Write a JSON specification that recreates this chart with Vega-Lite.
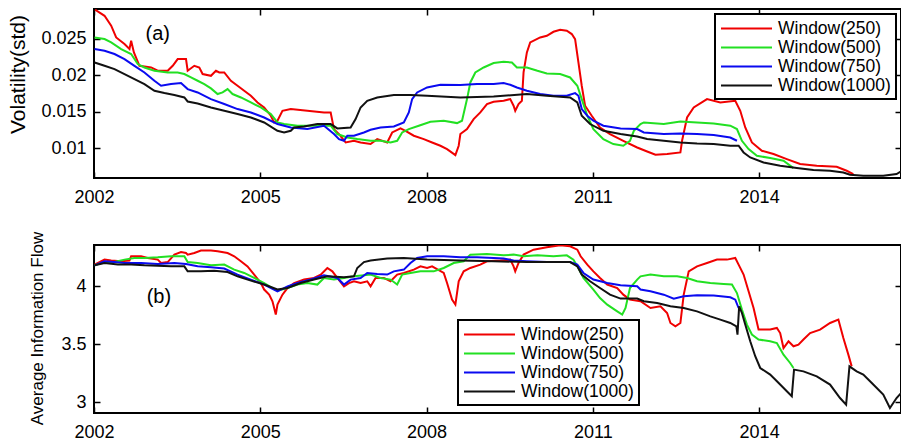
{
"$schema": "https://vega.github.io/schema/vega-lite/v6.json",
"padding": {"left": 6, "top": 7, "right": 0, "bottom": 0},
"bounds": "flush",
"spacing": 67,
"config": {
  "font": "Liberation Sans",
  "view": {"stroke": "black", "strokeWidth": 2},
  "axis": {"domain": false, "grid": false, "labelFlush": false, "tickColor": "black", "tickSize": -6, "tickWidth": 1.5, "labelFontSize": 18, "labelColor": "black", "titleColor": "black", "titleFontWeight": "normal"},
  "legend": {"labelFontSize": 17.5, "labelColor": "black", "symbolType": "M-3,0H3", "symbolSize": 289, "symbolStrokeWidth": 2, "symbolOffset": 17, "labelOffset": 22, "strokeColor": "black", "fillColor": "white", "padding": 5, "rowPadding": 1, "title": null}
},
"datasets": {
"top": [
{"series":"Window(250)","year":2002.02,"value":0.02895},{"series":"Window(250)","year":2002.19,"value":0.02812},{"series":"Window(250)","year":2002.31,"value":0.02676},{"series":"Window(250)","year":2002.40,"value":0.02515},{"series":"Window(250)","year":2002.55,"value":0.02425},{"series":"Window(250)","year":2002.64,"value":0.02356},{"series":"Window(250)","year":2002.67,"value":0.0247},{"series":"Window(250)","year":2002.72,"value":0.0231},{"series":"Window(250)","year":2002.82,"value":0.02127},{"series":"Window(250)","year":2003.03,"value":0.02104},{"series":"Window(250)","year":2003.15,"value":0.02059},{"series":"Window(250)","year":2003.33,"value":0.02059},{"series":"Window(250)","year":2003.42,"value":0.02127},{"series":"Window(250)","year":2003.51,"value":0.02219},{"series":"Window(250)","year":2003.66,"value":0.02219},{"series":"Window(250)","year":2003.69,"value":0.02059},{"series":"Window(250)","year":2003.81,"value":0.02127},{"series":"Window(250)","year":2003.90,"value":0.02104},{"series":"Window(250)","year":2003.96,"value":0.02014},{"series":"Window(250)","year":2004.11,"value":0.0199},{"series":"Window(250)","year":2004.20,"value":0.02059},{"series":"Window(250)","year":2004.26,"value":0.02036},{"series":"Window(250)","year":2004.35,"value":0.02036},{"series":"Window(250)","year":2004.47,"value":0.01922},{"series":"Window(250)","year":2004.59,"value":0.01854},{"series":"Window(250)","year":2004.71,"value":0.01785},{"series":"Window(250)","year":2004.83,"value":0.01717},{"series":"Window(250)","year":2004.95,"value":0.01625},{"series":"Window(250)","year":2005.07,"value":0.01556},{"series":"Window(250)","year":2005.19,"value":0.01443},{"series":"Window(250)","year":2005.25,"value":0.01351},{"series":"Window(250)","year":2005.31,"value":0.01374},{"series":"Window(250)","year":2005.40,"value":0.01511},{"series":"Window(250)","year":2005.55,"value":0.01534},{"series":"Window(250)","year":2005.85,"value":0.01511},{"series":"Window(250)","year":2006.15,"value":0.01488},{"series":"Window(250)","year":2006.27,"value":0.01488},{"series":"Window(250)","year":2006.33,"value":0.0126},{"series":"Window(250)","year":2006.42,"value":0.01192},{"series":"Window(250)","year":2006.54,"value":0.01077},{"series":"Window(250)","year":2006.69,"value":0.0110},{"series":"Window(250)","year":2006.81,"value":0.01077},{"series":"Window(250)","year":2006.99,"value":0.01055},{"series":"Window(250)","year":2007.11,"value":0.01123},{"series":"Window(250)","year":2007.29,"value":0.01077},{"series":"Window(250)","year":2007.38,"value":0.01214},{"series":"Window(250)","year":2007.53,"value":0.01269},{"series":"Window(250)","year":2007.62,"value":0.01237},{"series":"Window(250)","year":2007.77,"value":0.01169},{"series":"Window(250)","year":2007.95,"value":0.01123},{"series":"Window(250)","year":2008.10,"value":0.01077},{"series":"Window(250)","year":2008.25,"value":0.01032},{"series":"Window(250)","year":2008.37,"value":0.00986},{"series":"Window(250)","year":2008.52,"value":0.00904},{"series":"Window(250)","year":2008.58,"value":0.01032},{"series":"Window(250)","year":2008.61,"value":0.01192},{"series":"Window(250)","year":2008.73,"value":0.0126},{"series":"Window(250)","year":2008.85,"value":0.01397},{"series":"Window(250)","year":2008.97,"value":0.01488},{"series":"Window(250)","year":2009.09,"value":0.01603},{"series":"Window(250)","year":2009.21,"value":0.01634},{"series":"Window(250)","year":2009.39,"value":0.01648},{"series":"Window(250)","year":2009.51,"value":0.01671},{"series":"Window(250)","year":2009.57,"value":0.0158},{"series":"Window(250)","year":2009.60,"value":0.01511},{"series":"Window(250)","year":2009.66,"value":0.01603},{"series":"Window(250)","year":2009.72,"value":0.01648},{"series":"Window(250)","year":2009.75,"value":0.02036},{"series":"Window(250)","year":2009.81,"value":0.0231},{"series":"Window(250)","year":2009.87,"value":0.02447},{"series":"Window(250)","year":2010.05,"value":0.02515},{"series":"Window(250)","year":2010.17,"value":0.02538},{"series":"Window(250)","year":2010.29,"value":0.02593},{"series":"Window(250)","year":2010.41,"value":0.02621},{"series":"Window(250)","year":2010.53,"value":0.02607},{"series":"Window(250)","year":2010.62,"value":0.02562},{"series":"Window(250)","year":2010.68,"value":0.02493},{"series":"Window(250)","year":2010.74,"value":0.02173},{"series":"Window(250)","year":2010.80,"value":0.01854},{"series":"Window(250)","year":2010.86,"value":0.0158},{"series":"Window(250)","year":2010.98,"value":0.01443},{"series":"Window(250)","year":2011.13,"value":0.01282},{"series":"Window(250)","year":2011.31,"value":0.01192},{"series":"Window(250)","year":2011.55,"value":0.0110},{"series":"Window(250)","year":2011.80,"value":0.01008},{"series":"Window(250)","year":2011.98,"value":0.00953},{"series":"Window(250)","year":2012.13,"value":0.00908},{"series":"Window(250)","year":2012.34,"value":0.00918},{"series":"Window(250)","year":2012.58,"value":0.0094},{"series":"Window(250)","year":2012.61,"value":0.0110},{"series":"Window(250)","year":2012.70,"value":0.01419},{"series":"Window(250)","year":2012.82,"value":0.01556},{"series":"Window(250)","year":2013.06,"value":0.01671},{"series":"Window(250)","year":2013.30,"value":0.01625},{"series":"Window(250)","year":2013.57,"value":0.01648},{"series":"Window(250)","year":2013.66,"value":0.01511},{"series":"Window(250)","year":2013.75,"value":0.01282},{"series":"Window(250)","year":2013.87,"value":0.01077},{"series":"Window(250)","year":2014.05,"value":0.00963},{"series":"Window(250)","year":2014.26,"value":0.00918},{"series":"Window(250)","year":2014.50,"value":0.00849},{"series":"Window(250)","year":2014.74,"value":0.00781},{"series":"Window(250)","year":2015.04,"value":0.00758},{"series":"Window(250)","year":2015.40,"value":0.00744},{"series":"Window(250)","year":2015.58,"value":0.00689},{"series":"Window(250)","year":2015.70,"value":0.00644},
{"series":"Window(500)","year":2002.01,"value":0.02515},{"series":"Window(500)","year":2002.19,"value":0.02493},{"series":"Window(500)","year":2002.31,"value":0.02447},{"series":"Window(500)","year":2002.49,"value":0.02356},{"series":"Window(500)","year":2002.67,"value":0.02288},{"series":"Window(500)","year":2002.79,"value":0.02151},{"series":"Window(500)","year":2002.91,"value":0.02104},{"series":"Window(500)","year":2003.09,"value":0.02059},{"series":"Window(500)","year":2003.33,"value":0.02036},{"series":"Window(500)","year":2003.51,"value":0.02036},{"series":"Window(500)","year":2003.63,"value":0.02014},{"series":"Window(500)","year":2003.75,"value":0.01967},{"series":"Window(500)","year":2003.87,"value":0.01922},{"series":"Window(500)","year":2003.99,"value":0.01877},{"series":"Window(500)","year":2004.11,"value":0.01817},{"series":"Window(500)","year":2004.23,"value":0.0174},{"series":"Window(500)","year":2004.32,"value":0.01762},{"series":"Window(500)","year":2004.41,"value":0.01808},{"series":"Window(500)","year":2004.50,"value":0.0174},{"series":"Window(500)","year":2004.65,"value":0.01693},{"series":"Window(500)","year":2004.83,"value":0.01625},{"series":"Window(500)","year":2005.01,"value":0.01556},{"series":"Window(500)","year":2005.19,"value":0.01466},{"series":"Window(500)","year":2005.31,"value":0.01351},{"series":"Window(500)","year":2005.43,"value":0.01329},{"series":"Window(500)","year":2005.67,"value":0.01306},{"series":"Window(500)","year":2005.91,"value":0.01306},{"series":"Window(500)","year":2006.27,"value":0.01306},{"series":"Window(500)","year":2006.39,"value":0.01192},{"series":"Window(500)","year":2006.57,"value":0.01145},{"series":"Window(500)","year":2006.75,"value":0.01123},{"series":"Window(500)","year":2006.99,"value":0.0110},{"series":"Window(500)","year":2007.17,"value":0.0110},{"series":"Window(500)","year":2007.35,"value":0.01077},{"series":"Window(500)","year":2007.47,"value":0.0110},{"series":"Window(500)","year":2007.56,"value":0.01214},{"series":"Window(500)","year":2007.68,"value":0.0126},{"series":"Window(500)","year":2007.86,"value":0.01306},{"series":"Window(500)","year":2008.07,"value":0.0136},{"series":"Window(500)","year":2008.31,"value":0.01374},{"series":"Window(500)","year":2008.55,"value":0.01342},{"series":"Window(500)","year":2008.64,"value":0.01374},{"series":"Window(500)","year":2008.73,"value":0.01671},{"series":"Window(500)","year":2008.79,"value":0.01899},{"series":"Window(500)","year":2008.88,"value":0.02036},{"series":"Window(500)","year":2009.03,"value":0.02104},{"series":"Window(500)","year":2009.21,"value":0.02164},{"series":"Window(500)","year":2009.39,"value":0.02182},{"series":"Window(500)","year":2009.54,"value":0.02173},{"series":"Window(500)","year":2009.63,"value":0.02104},{"series":"Window(500)","year":2009.81,"value":0.02104},{"series":"Window(500)","year":2010.00,"value":0.02059},{"series":"Window(500)","year":2010.17,"value":0.02022},{"series":"Window(500)","year":2010.41,"value":0.02014},{"series":"Window(500)","year":2010.59,"value":0.01967},{"series":"Window(500)","year":2010.72,"value":0.01854},{"series":"Window(500)","year":2010.80,"value":0.01671},{"series":"Window(500)","year":2010.90,"value":0.01443},{"series":"Window(500)","year":2011.01,"value":0.0126},{"series":"Window(500)","year":2011.19,"value":0.01123},{"series":"Window(500)","year":2011.37,"value":0.01055},{"series":"Window(500)","year":2011.55,"value":0.01032},{"series":"Window(500)","year":2011.67,"value":0.0110},{"series":"Window(500)","year":2011.74,"value":0.01237},{"series":"Window(500)","year":2011.86,"value":0.01329},{"series":"Window(500)","year":2011.92,"value":0.01351},{"series":"Window(500)","year":2012.28,"value":0.01329},{"series":"Window(500)","year":2012.58,"value":0.01364},{"series":"Window(500)","year":2012.88,"value":0.01351},{"series":"Window(500)","year":2013.18,"value":0.01337},{"series":"Window(500)","year":2013.48,"value":0.01306},{"series":"Window(500)","year":2013.60,"value":0.0126},{"series":"Window(500)","year":2013.69,"value":0.0110},{"series":"Window(500)","year":2013.81,"value":0.00986},{"series":"Window(500)","year":2013.96,"value":0.00895},{"series":"Window(500)","year":2014.20,"value":0.00863},{"series":"Window(500)","year":2014.44,"value":0.00826},{"series":"Window(500)","year":2014.62,"value":0.00726},
{"series":"Window(750)","year":2002.01,"value":0.02356},{"series":"Window(750)","year":2002.19,"value":0.02333},{"series":"Window(750)","year":2002.37,"value":0.02288},{"series":"Window(750)","year":2002.55,"value":0.02219},{"series":"Window(750)","year":2002.73,"value":0.02127},{"series":"Window(750)","year":2002.91,"value":0.02036},{"series":"Window(750)","year":2003.09,"value":0.01922},{"series":"Window(750)","year":2003.21,"value":0.01854},{"series":"Window(750)","year":2003.39,"value":0.01877},{"series":"Window(750)","year":2003.57,"value":0.0189},{"series":"Window(750)","year":2003.69,"value":0.01808},{"series":"Window(750)","year":2003.87,"value":0.01762},{"series":"Window(750)","year":2004.11,"value":0.01671},{"series":"Window(750)","year":2004.35,"value":0.01603},{"series":"Window(750)","year":2004.59,"value":0.01534},{"series":"Window(750)","year":2004.83,"value":0.01488},{"series":"Window(750)","year":2005.07,"value":0.01419},{"series":"Window(750)","year":2005.31,"value":0.01329},{"series":"Window(750)","year":2005.55,"value":0.01282},{"series":"Window(750)","year":2005.85,"value":0.0126},{"series":"Window(750)","year":2006.15,"value":0.01306},{"series":"Window(750)","year":2006.33,"value":0.01192},{"series":"Window(750)","year":2006.42,"value":0.01123},{"series":"Window(750)","year":2006.51,"value":0.0110},{"series":"Window(750)","year":2006.57,"value":0.01169},{"series":"Window(750)","year":2006.69,"value":0.01169},{"series":"Window(750)","year":2006.87,"value":0.01214},{"series":"Window(750)","year":2006.99,"value":0.01251},{"series":"Window(750)","year":2007.17,"value":0.01282},{"series":"Window(750)","year":2007.41,"value":0.01296},{"series":"Window(750)","year":2007.59,"value":0.01351},{"series":"Window(750)","year":2007.68,"value":0.01488},{"series":"Window(750)","year":2007.74,"value":0.01671},{"series":"Window(750)","year":2007.83,"value":0.01762},{"series":"Window(750)","year":2008.01,"value":0.0183},{"series":"Window(750)","year":2008.25,"value":0.01867},{"series":"Window(750)","year":2008.61,"value":0.01863},{"series":"Window(750)","year":2008.91,"value":0.01877},{"series":"Window(750)","year":2009.21,"value":0.01877},{"series":"Window(750)","year":2009.39,"value":0.0189},{"series":"Window(750)","year":2009.51,"value":0.01867},{"series":"Window(750)","year":2009.63,"value":0.0183},{"series":"Window(750)","year":2009.81,"value":0.01785},{"series":"Window(750)","year":2010.05,"value":0.0174},{"series":"Window(750)","year":2010.29,"value":0.01717},{"series":"Window(750)","year":2010.53,"value":0.01717},{"series":"Window(750)","year":2010.68,"value":0.01753},{"series":"Window(750)","year":2010.74,"value":0.01717},{"series":"Window(750)","year":2010.80,"value":0.01534},{"series":"Window(750)","year":2010.90,"value":0.01443},{"series":"Window(750)","year":2011.01,"value":0.01374},{"series":"Window(750)","year":2011.19,"value":0.01306},{"series":"Window(750)","year":2011.50,"value":0.01269},{"series":"Window(750)","year":2011.80,"value":0.0126},{"series":"Window(750)","year":2011.92,"value":0.01214},{"series":"Window(750)","year":2012.28,"value":0.01192},{"series":"Window(750)","year":2012.58,"value":0.012},{"series":"Window(750)","year":2012.88,"value":0.01192},{"series":"Window(750)","year":2013.18,"value":0.01178},{"series":"Window(750)","year":2013.48,"value":0.01145},{"series":"Window(750)","year":2013.60,"value":0.0110},
{"series":"Window(1000)","year":2002.01,"value":0.02173},{"series":"Window(1000)","year":2002.19,"value":0.02127},{"series":"Window(1000)","year":2002.37,"value":0.02082},{"series":"Window(1000)","year":2002.55,"value":0.02014},{"series":"Window(1000)","year":2002.73,"value":0.01945},{"series":"Window(1000)","year":2002.91,"value":0.01877},{"series":"Window(1000)","year":2003.09,"value":0.01785},{"series":"Window(1000)","year":2003.27,"value":0.01753},{"series":"Window(1000)","year":2003.45,"value":0.01726},{"series":"Window(1000)","year":2003.63,"value":0.01693},{"series":"Window(1000)","year":2003.69,"value":0.01638},{"series":"Window(1000)","year":2003.87,"value":0.01611},{"series":"Window(1000)","year":2004.11,"value":0.01556},{"series":"Window(1000)","year":2004.35,"value":0.01511},{"series":"Window(1000)","year":2004.59,"value":0.01466},{"series":"Window(1000)","year":2004.83,"value":0.01419},{"series":"Window(1000)","year":2005.07,"value":0.01351},{"series":"Window(1000)","year":2005.31,"value":0.01237},{"series":"Window(1000)","year":2005.43,"value":0.01214},{"series":"Window(1000)","year":2005.55,"value":0.01237},{"series":"Window(1000)","year":2005.61,"value":0.01282},{"series":"Window(1000)","year":2005.79,"value":0.01296},{"series":"Window(1000)","year":2006.03,"value":0.01329},{"series":"Window(1000)","year":2006.27,"value":0.01329},{"series":"Window(1000)","year":2006.39,"value":0.01269},{"series":"Window(1000)","year":2006.63,"value":0.01282},{"series":"Window(1000)","year":2006.72,"value":0.01397},{"series":"Window(1000)","year":2006.81,"value":0.01556},{"series":"Window(1000)","year":2006.93,"value":0.01648},{"series":"Window(1000)","year":2007.11,"value":0.01693},{"series":"Window(1000)","year":2007.41,"value":0.01726},{"series":"Window(1000)","year":2007.71,"value":0.01726},{"series":"Window(1000)","year":2008.01,"value":0.01717},{"series":"Window(1000)","year":2008.61,"value":0.01693},{"series":"Window(1000)","year":2009.21,"value":0.01707},{"series":"Window(1000)","year":2009.81,"value":0.0174},{"series":"Window(1000)","year":2010.17,"value":0.01717},{"series":"Window(1000)","year":2010.59,"value":0.01693},{"series":"Window(1000)","year":2010.72,"value":0.01625},{"series":"Window(1000)","year":2010.80,"value":0.01443},{"series":"Window(1000)","year":2010.95,"value":0.01329},{"series":"Window(1000)","year":2011.19,"value":0.01237},{"series":"Window(1000)","year":2011.50,"value":0.01192},{"series":"Window(1000)","year":2011.80,"value":0.01159},{"series":"Window(1000)","year":2011.98,"value":0.01123},{"series":"Window(1000)","year":2012.28,"value":0.0110},{"series":"Window(1000)","year":2012.58,"value":0.01077},{"series":"Window(1000)","year":2012.88,"value":0.01063},{"series":"Window(1000)","year":2013.18,"value":0.01055},{"series":"Window(1000)","year":2013.48,"value":0.01032},{"series":"Window(1000)","year":2013.63,"value":0.01032},{"series":"Window(1000)","year":2013.72,"value":0.0094},{"series":"Window(1000)","year":2013.84,"value":0.00871},{"series":"Window(1000)","year":2014.08,"value":0.00803},{"series":"Window(1000)","year":2014.38,"value":0.00758},{"series":"Window(1000)","year":2014.68,"value":0.00726},{"series":"Window(1000)","year":2014.98,"value":0.00699},{"series":"Window(1000)","year":2015.28,"value":0.00689},{"series":"Window(1000)","year":2015.52,"value":0.00666},{"series":"Window(1000)","year":2015.64,"value":0.00634},{"series":"Window(1000)","year":2015.88,"value":0.00621},{"series":"Window(1000)","year":2016.24,"value":0.00621},{"series":"Window(1000)","year":2016.48,"value":0.00644},{"series":"Window(1000)","year":2016.56,"value":0.0068}
],
"bottom": [
{"series":"Window(250)","year":2002.01,"value":4.187},{"series":"Window(250)","year":2002.19,"value":4.230},{"series":"Window(250)","year":2002.31,"value":4.222},{"series":"Window(250)","year":2002.49,"value":4.216},{"series":"Window(250)","year":2002.64,"value":4.222},{"series":"Window(250)","year":2002.67,"value":4.259},{"series":"Window(250)","year":2002.85,"value":4.259},{"series":"Window(250)","year":2002.97,"value":4.244},{"series":"Window(250)","year":2003.15,"value":4.230},{"series":"Window(250)","year":2003.21,"value":4.201},{"series":"Window(250)","year":2003.33,"value":4.209},{"series":"Window(250)","year":2003.45,"value":4.273},{"series":"Window(250)","year":2003.57,"value":4.296},{"series":"Window(250)","year":2003.66,"value":4.287},{"series":"Window(250)","year":2003.69,"value":4.273},{"series":"Window(250)","year":2003.81,"value":4.287},{"series":"Window(250)","year":2003.93,"value":4.308},{"series":"Window(250)","year":2004.11,"value":4.308},{"series":"Window(250)","year":2004.23,"value":4.302},{"series":"Window(250)","year":2004.41,"value":4.287},{"series":"Window(250)","year":2004.53,"value":4.259},{"series":"Window(250)","year":2004.65,"value":4.216},{"series":"Window(250)","year":2004.77,"value":4.172},{"series":"Window(250)","year":2004.89,"value":4.101},{"series":"Window(250)","year":2005.01,"value":4.028},{"series":"Window(250)","year":2005.07,"value":3.972},{"series":"Window(250)","year":2005.16,"value":3.928},{"series":"Window(250)","year":2005.22,"value":3.871},{"series":"Window(250)","year":2005.28,"value":3.756},{"series":"Window(250)","year":2005.31,"value":3.842},{"series":"Window(250)","year":2005.40,"value":3.928},{"series":"Window(250)","year":2005.49,"value":3.985},{"series":"Window(250)","year":2005.61,"value":4.028},{"series":"Window(250)","year":2005.79,"value":4.058},{"series":"Window(250)","year":2005.97,"value":4.072},{"series":"Window(250)","year":2006.09,"value":4.101},{"series":"Window(250)","year":2006.21,"value":4.158},{"series":"Window(250)","year":2006.30,"value":4.129},{"series":"Window(250)","year":2006.39,"value":4.072},{"series":"Window(250)","year":2006.51,"value":4.0},{"series":"Window(250)","year":2006.60,"value":4.028},{"series":"Window(250)","year":2006.69,"value":4.043},{"series":"Window(250)","year":2006.81,"value":4.028},{"series":"Window(250)","year":2006.93,"value":4.043},{"series":"Window(250)","year":2006.99,"value":4.0},{"series":"Window(250)","year":2007.08,"value":4.072},{"series":"Window(250)","year":2007.23,"value":4.072},{"series":"Window(250)","year":2007.35,"value":4.043},{"series":"Window(250)","year":2007.47,"value":4.101},{"series":"Window(250)","year":2007.59,"value":4.115},{"series":"Window(250)","year":2007.77,"value":4.144},{"series":"Window(250)","year":2007.89,"value":4.172},{"series":"Window(250)","year":2008.01,"value":4.158},{"series":"Window(250)","year":2008.10,"value":4.172},{"series":"Window(250)","year":2008.31,"value":4.115},{"series":"Window(250)","year":2008.37,"value":4.028},{"series":"Window(250)","year":2008.46,"value":3.885},{"series":"Window(250)","year":2008.52,"value":3.842},{"series":"Window(250)","year":2008.58,"value":4.043},{"series":"Window(250)","year":2008.67,"value":4.129},{"series":"Window(250)","year":2008.79,"value":4.158},{"series":"Window(250)","year":2008.97,"value":4.187},{"series":"Window(250)","year":2009.09,"value":4.216},{"series":"Window(250)","year":2009.33,"value":4.222},{"series":"Window(250)","year":2009.51,"value":4.230},{"series":"Window(250)","year":2009.57,"value":4.172},{"series":"Window(250)","year":2009.60,"value":4.129},{"series":"Window(250)","year":2009.66,"value":4.201},{"series":"Window(250)","year":2009.75,"value":4.273},{"series":"Window(250)","year":2009.93,"value":4.316},{"series":"Window(250)","year":2010.17,"value":4.336},{"series":"Window(250)","year":2010.41,"value":4.353},{"series":"Window(250)","year":2010.59,"value":4.345},{"series":"Window(250)","year":2010.72,"value":4.316},{"series":"Window(250)","year":2010.78,"value":4.259},{"series":"Window(250)","year":2010.90,"value":4.187},{"series":"Window(250)","year":2011.01,"value":4.129},{"series":"Window(250)","year":2011.13,"value":4.072},{"series":"Window(250)","year":2011.26,"value":4.015},{"series":"Window(250)","year":2011.44,"value":3.985},{"series":"Window(250)","year":2011.55,"value":3.928},{"series":"Window(250)","year":2011.67,"value":3.885},{"series":"Window(250)","year":2011.86,"value":3.871},{"series":"Window(250)","year":2012.04,"value":3.813},{"series":"Window(250)","year":2012.22,"value":3.828},{"series":"Window(250)","year":2012.34,"value":3.770},{"series":"Window(250)","year":2012.40,"value":3.684},{"series":"Window(250)","year":2012.49,"value":3.655},{"series":"Window(250)","year":2012.58,"value":3.684},{"series":"Window(250)","year":2012.64,"value":3.928},{"series":"Window(250)","year":2012.73,"value":4.129},{"series":"Window(250)","year":2012.88,"value":4.172},{"series":"Window(250)","year":2013.06,"value":4.201},{"series":"Window(250)","year":2013.24,"value":4.230},{"series":"Window(250)","year":2013.42,"value":4.230},{"series":"Window(250)","year":2013.57,"value":4.244},{"series":"Window(250)","year":2013.63,"value":4.187},{"series":"Window(250)","year":2013.72,"value":4.101},{"series":"Window(250)","year":2013.81,"value":3.957},{"series":"Window(250)","year":2013.90,"value":3.813},{"series":"Window(250)","year":2013.99,"value":3.627},{"series":"Window(250)","year":2014.20,"value":3.627},{"series":"Window(250)","year":2014.32,"value":3.641},{"series":"Window(250)","year":2014.38,"value":3.597},{"series":"Window(250)","year":2014.44,"value":3.468},{"series":"Window(250)","year":2014.53,"value":3.526},{"series":"Window(250)","year":2014.62,"value":3.483},{"series":"Window(250)","year":2014.71,"value":3.497},{"series":"Window(250)","year":2014.80,"value":3.541},{"series":"Window(250)","year":2014.92,"value":3.597},{"series":"Window(250)","year":2015.10,"value":3.627},{"series":"Window(250)","year":2015.28,"value":3.684},{"series":"Window(250)","year":2015.43,"value":3.713},{"series":"Window(250)","year":2015.52,"value":3.554},{"series":"Window(250)","year":2015.61,"value":3.411},{"series":"Window(250)","year":2015.67,"value":3.310},
{"series":"Window(500)","year":2002.01,"value":4.181},{"series":"Window(500)","year":2002.19,"value":4.209},{"series":"Window(500)","year":2002.37,"value":4.209},{"series":"Window(500)","year":2002.55,"value":4.230},{"series":"Window(500)","year":2002.73,"value":4.244},{"series":"Window(500)","year":2002.91,"value":4.244},{"series":"Window(500)","year":2003.15,"value":4.250},{"series":"Window(500)","year":2003.39,"value":4.259},{"series":"Window(500)","year":2003.63,"value":4.259},{"series":"Window(500)","year":2003.69,"value":4.209},{"series":"Window(500)","year":2003.87,"value":4.201},{"series":"Window(500)","year":2004.11,"value":4.181},{"series":"Window(500)","year":2004.35,"value":4.187},{"series":"Window(500)","year":2004.53,"value":4.144},{"series":"Window(500)","year":2004.71,"value":4.115},{"series":"Window(500)","year":2004.89,"value":4.072},{"series":"Window(500)","year":2005.07,"value":4.028},{"series":"Window(500)","year":2005.22,"value":3.985},{"series":"Window(500)","year":2005.31,"value":3.963},{"series":"Window(500)","year":2005.49,"value":3.985},{"series":"Window(500)","year":2005.67,"value":4.015},{"series":"Window(500)","year":2005.85,"value":4.028},{"series":"Window(500)","year":2006.03,"value":4.015},{"series":"Window(500)","year":2006.15,"value":4.072},{"series":"Window(500)","year":2006.33,"value":4.058},{"series":"Window(500)","year":2006.51,"value":4.072},{"series":"Window(500)","year":2006.69,"value":4.086},{"series":"Window(500)","year":2006.87,"value":4.095},{"series":"Window(500)","year":2006.99,"value":4.101},{"series":"Window(500)","year":2007.17,"value":4.072},{"series":"Window(500)","year":2007.35,"value":4.058},{"series":"Window(500)","year":2007.47,"value":4.015},{"series":"Window(500)","year":2007.56,"value":4.101},{"series":"Window(500)","year":2007.71,"value":4.115},{"series":"Window(500)","year":2007.89,"value":4.129},{"series":"Window(500)","year":2008.13,"value":4.129},{"series":"Window(500)","year":2008.31,"value":4.158},{"series":"Window(500)","year":2008.49,"value":4.201},{"series":"Window(500)","year":2008.67,"value":4.216},{"series":"Window(500)","year":2008.79,"value":4.273},{"series":"Window(500)","year":2009.09,"value":4.278},{"series":"Window(500)","year":2009.39,"value":4.267},{"series":"Window(500)","year":2009.57,"value":4.273},{"series":"Window(500)","year":2009.75,"value":4.259},{"series":"Window(500)","year":2010.00,"value":4.267},{"series":"Window(500)","year":2010.29,"value":4.259},{"series":"Window(500)","year":2010.53,"value":4.267},{"series":"Window(500)","year":2010.65,"value":4.230},{"series":"Window(500)","year":2010.74,"value":4.158},{"series":"Window(500)","year":2010.83,"value":4.072},{"series":"Window(500)","year":2011.01,"value":3.972},{"series":"Window(500)","year":2011.13,"value":3.899},{"series":"Window(500)","year":2011.26,"value":3.842},{"series":"Window(500)","year":2011.44,"value":3.784},{"series":"Window(500)","year":2011.53,"value":3.756},{"series":"Window(500)","year":2011.59,"value":3.813},{"series":"Window(500)","year":2011.67,"value":3.985},{"series":"Window(500)","year":2011.80,"value":4.058},{"series":"Window(500)","year":2011.86,"value":4.086},{"series":"Window(500)","year":2012.04,"value":4.101},{"series":"Window(500)","year":2012.28,"value":4.086},{"series":"Window(500)","year":2012.52,"value":4.086},{"series":"Window(500)","year":2012.70,"value":4.072},{"series":"Window(500)","year":2012.88,"value":4.043},{"series":"Window(500)","year":2013.12,"value":4.028},{"series":"Window(500)","year":2013.36,"value":4.020},{"series":"Window(500)","year":2013.51,"value":4.015},{"series":"Window(500)","year":2013.60,"value":3.942},{"series":"Window(500)","year":2013.69,"value":3.799},{"series":"Window(500)","year":2013.78,"value":3.670},{"series":"Window(500)","year":2013.87,"value":3.584},{"series":"Window(500)","year":2013.99,"value":3.541},{"series":"Window(500)","year":2014.20,"value":3.526},{"series":"Window(500)","year":2014.32,"value":3.511},{"series":"Window(500)","year":2014.44,"value":3.411},{"series":"Window(500)","year":2014.56,"value":3.339},{"series":"Window(500)","year":2014.62,"value":3.296},
{"series":"Window(750)","year":2002.01,"value":4.181},{"series":"Window(750)","year":2002.19,"value":4.216},{"series":"Window(750)","year":2002.37,"value":4.209},{"series":"Window(750)","year":2002.55,"value":4.201},{"series":"Window(750)","year":2002.85,"value":4.201},{"series":"Window(750)","year":2003.15,"value":4.192},{"series":"Window(750)","year":2003.45,"value":4.201},{"series":"Window(750)","year":2003.66,"value":4.192},{"series":"Window(750)","year":2003.87,"value":4.172},{"series":"Window(750)","year":2004.11,"value":4.164},{"series":"Window(750)","year":2004.35,"value":4.153},{"series":"Window(750)","year":2004.59,"value":4.101},{"series":"Window(750)","year":2004.83,"value":4.058},{"series":"Window(750)","year":2005.07,"value":4.015},{"series":"Window(750)","year":2005.31,"value":3.957},{"series":"Window(750)","year":2005.49,"value":4.0},{"series":"Window(750)","year":2005.67,"value":4.028},{"series":"Window(750)","year":2005.91,"value":4.058},{"series":"Window(750)","year":2006.15,"value":4.095},{"series":"Window(750)","year":2006.39,"value":4.072},{"series":"Window(750)","year":2006.51,"value":4.015},{"series":"Window(750)","year":2006.63,"value":4.058},{"series":"Window(750)","year":2006.81,"value":4.072},{"series":"Window(750)","year":2006.93,"value":4.115},{"series":"Window(750)","year":2007.11,"value":4.106},{"series":"Window(750)","year":2007.29,"value":4.101},{"series":"Window(750)","year":2007.41,"value":4.129},{"series":"Window(750)","year":2007.59,"value":4.144},{"series":"Window(750)","year":2007.71,"value":4.201},{"series":"Window(750)","year":2007.83,"value":4.244},{"series":"Window(750)","year":2008.01,"value":4.259},{"series":"Window(750)","year":2008.31,"value":4.259},{"series":"Window(750)","year":2008.61,"value":4.250},{"series":"Window(750)","year":2008.91,"value":4.250},{"series":"Window(750)","year":2009.21,"value":4.244},{"series":"Window(750)","year":2009.39,"value":4.239},{"series":"Window(750)","year":2009.57,"value":4.222},{"series":"Window(750)","year":2009.81,"value":4.216},{"series":"Window(750)","year":2010.17,"value":4.209},{"series":"Window(750)","year":2010.59,"value":4.209},{"series":"Window(750)","year":2010.72,"value":4.187},{"series":"Window(750)","year":2010.83,"value":4.115},{"series":"Window(750)","year":2011.01,"value":4.058},{"series":"Window(750)","year":2011.26,"value":4.028},{"series":"Window(750)","year":2011.50,"value":4.009},{"series":"Window(750)","year":2011.80,"value":4.0},{"series":"Window(750)","year":2011.86,"value":3.972},{"series":"Window(750)","year":2012.04,"value":3.957},{"series":"Window(750)","year":2012.28,"value":3.928},{"series":"Window(750)","year":2012.46,"value":3.894},{"series":"Window(750)","year":2012.64,"value":3.914},{"series":"Window(750)","year":2012.88,"value":3.922},{"series":"Window(750)","year":2013.18,"value":3.920},{"series":"Window(750)","year":2013.48,"value":3.905},{"series":"Window(750)","year":2013.57,"value":3.885},{"series":"Window(750)","year":2013.63,"value":3.813},
{"series":"Window(1000)","year":2002.01,"value":4.181},{"series":"Window(1000)","year":2002.19,"value":4.201},{"series":"Window(1000)","year":2002.43,"value":4.187},{"series":"Window(1000)","year":2002.67,"value":4.187},{"series":"Window(1000)","year":2002.91,"value":4.181},{"series":"Window(1000)","year":2003.15,"value":4.178},{"series":"Window(1000)","year":2003.39,"value":4.172},{"series":"Window(1000)","year":2003.63,"value":4.172},{"series":"Window(1000)","year":2003.69,"value":4.129},{"series":"Window(1000)","year":2003.93,"value":4.129},{"series":"Window(1000)","year":2004.17,"value":4.135},{"series":"Window(1000)","year":2004.41,"value":4.123},{"series":"Window(1000)","year":2004.59,"value":4.086},{"series":"Window(1000)","year":2004.83,"value":4.049},{"series":"Window(1000)","year":2005.07,"value":4.015},{"series":"Window(1000)","year":2005.31,"value":3.972},{"series":"Window(1000)","year":2005.49,"value":3.985},{"series":"Window(1000)","year":2005.73,"value":4.028},{"series":"Window(1000)","year":2005.97,"value":4.058},{"series":"Window(1000)","year":2006.21,"value":4.086},{"series":"Window(1000)","year":2006.51,"value":4.078},{"series":"Window(1000)","year":2006.69,"value":4.086},{"series":"Window(1000)","year":2006.75,"value":4.158},{"series":"Window(1000)","year":2006.87,"value":4.209},{"series":"Window(1000)","year":2006.99,"value":4.222},{"series":"Window(1000)","year":2007.29,"value":4.239},{"series":"Window(1000)","year":2007.59,"value":4.244},{"series":"Window(1000)","year":2008.01,"value":4.230},{"series":"Window(1000)","year":2008.61,"value":4.222},{"series":"Window(1000)","year":2009.21,"value":4.216},{"series":"Window(1000)","year":2009.81,"value":4.209},{"series":"Window(1000)","year":2010.59,"value":4.209},{"series":"Window(1000)","year":2010.72,"value":4.172},{"series":"Window(1000)","year":2010.80,"value":4.101},{"series":"Window(1000)","year":2010.95,"value":4.043},{"series":"Window(1000)","year":2011.13,"value":3.985},{"series":"Window(1000)","year":2011.31,"value":3.928},{"series":"Window(1000)","year":2011.50,"value":3.894},{"series":"Window(1000)","year":2011.80,"value":3.894},{"series":"Window(1000)","year":2011.92,"value":3.871},{"series":"Window(1000)","year":2012.16,"value":3.856},{"series":"Window(1000)","year":2012.40,"value":3.828},{"series":"Window(1000)","year":2012.64,"value":3.813},{"series":"Window(1000)","year":2012.88,"value":3.784},{"series":"Window(1000)","year":2013.12,"value":3.741},{"series":"Window(1000)","year":2013.30,"value":3.713},{"series":"Window(1000)","year":2013.48,"value":3.684},{"series":"Window(1000)","year":2013.59,"value":3.655},{"series":"Window(1000)","year":2013.61,"value":3.584},{"series":"Window(1000)","year":2013.64,"value":3.828},{"series":"Window(1000)","year":2013.69,"value":3.770},{"series":"Window(1000)","year":2013.75,"value":3.670},{"series":"Window(1000)","year":2013.84,"value":3.526},{"series":"Window(1000)","year":2013.93,"value":3.397},{"series":"Window(1000)","year":2014.02,"value":3.296},{"series":"Window(1000)","year":2014.20,"value":3.239},{"series":"Window(1000)","year":2014.38,"value":3.153},{"series":"Window(1000)","year":2014.50,"value":3.095},{"series":"Window(1000)","year":2014.59,"value":3.052},{"series":"Window(1000)","year":2014.63,"value":3.282},{"series":"Window(1000)","year":2014.80,"value":3.267},{"series":"Window(1000)","year":2015.04,"value":3.224},{"series":"Window(1000)","year":2015.28,"value":3.153},{"series":"Window(1000)","year":2015.46,"value":3.037},{"series":"Window(1000)","year":2015.57,"value":2.980},{"series":"Window(1000)","year":2015.63,"value":3.310},{"series":"Window(1000)","year":2015.76,"value":3.267},{"series":"Window(1000)","year":2015.88,"value":3.239},{"series":"Window(1000)","year":2016.06,"value":3.153},{"series":"Window(1000)","year":2016.24,"value":3.066},{"series":"Window(1000)","year":2016.36,"value":2.951},{"series":"Window(1000)","year":2016.48,"value":3.037},{"series":"Window(1000)","year":2016.56,"value":3.080}
]
},
"vconcat": [
{
  "width": 807, "height": 169,
  "layer": [
    {
      "data": {"name": "top"},
      "mark": {"type": "line", "strokeWidth": 2, "clip": true},
      "encoding": {
        "x": {"field": "year", "type": "quantitative", "scale": {"domain": [2002, 2016.56], "nice": false, "zero": false}, "axis": {"orient": "bottom", "values": [2002, 2005, 2008, 2011, 2014], "format": "d", "title": null, "labelPadding": 16}},
        "y": {"field": "value", "type": "quantitative", "scale": {"domain": [0.0059, 0.02905], "nice": false, "zero": false}, "axis": {"orient": "left", "values": [0.01, 0.015, 0.02, 0.025], "format": "~g", "labelPadding": 14, "title": "Volatility(std)", "titleFontSize": 21, "titleX": -66, "titleY": 65, "titleAngle": 270, "titleAlign": "center", "titleBaseline": "bottom"}},
        "color": {"field": "series", "type": "nominal", "sort": ["Window(250)", "Window(500)", "Window(750)", "Window(1000)"], "scale": {"domain": ["Window(250)", "Window(500)", "Window(750)", "Window(1000)"], "range": ["#f00000", "#22e022", "#0a0af0", "#111111"]}, "legend": {"orient": "top-right", "offset": 5, "encode": {"legend": {"update": {"strokeWidth": {"value": 2}}}}}}
      }
    },
    {
      "data": {"name": "top"},
      "mark": {"type": "point", "opacity": 0, "size": 0},
      "encoding": {
        "x": {"field": "year", "type": "quantitative", "scale": {"domain": [2002, 2016.56], "nice": false, "zero": false}, "axis": {"orient": "top", "values": [2002, 2005, 2008, 2011, 2014], "labels": false, "title": null}},
        "y": {"field": "value", "type": "quantitative", "scale": {"domain": [0.0059, 0.02905], "nice": false, "zero": false}, "axis": {"orient": "right", "values": [0.01, 0.015, 0.02, 0.025], "labels": false, "title": null}}
      }
    },
    {
      "data": {"values": [{"year": 2003.15, "value": 0.02566, "label": "(a)"}]},
      "mark": {"type": "text", "fontSize": 20, "align": "center", "baseline": "middle", "color": "black"},
      "encoding": {
        "x": {"field": "year", "type": "quantitative", "scale": {"domain": [2002, 2016.56], "nice": false, "zero": false}, "axis": null},
        "y": {"field": "value", "type": "quantitative", "scale": {"domain": [0.0059, 0.02905], "nice": false, "zero": false}, "axis": null},
        "text": {"field": "label"}
      }
    }
  ],
  "resolve": {"axis": {"x": "independent", "y": "independent"}}
},
{
  "width": 807, "height": 168,
  "layer": [
    {
      "data": {"name": "bottom"},
      "mark": {"type": "line", "strokeWidth": 2, "clip": true},
      "encoding": {
        "x": {"field": "year", "type": "quantitative", "scale": {"domain": [2002, 2016.56], "nice": false, "zero": false}, "axis": {"orient": "bottom", "values": [2002, 2005, 2008, 2011, 2014], "format": "d", "title": null, "labelPadding": 16}},
        "y": {"field": "value", "type": "quantitative", "scale": {"domain": [2.908, 4.356], "nice": false, "zero": false}, "axis": {"orient": "left", "values": [3, 3.5, 4], "format": "~g", "labelPadding": 14, "title": "Average Information Flow", "titleFontSize": 17, "titleX": -48, "titleY": 83, "titleAngle": 270, "titleAlign": "center", "titleBaseline": "bottom"}},
        "color": {"field": "series", "type": "nominal", "sort": ["Window(250)", "Window(500)", "Window(750)", "Window(1000)"], "scale": {"domain": ["Window(250)", "Window(500)", "Window(750)", "Window(1000)"], "range": ["#f00000", "#22e022", "#0a0af0", "#111111"]}, "legend": {"orient": "none", "legendX": 364, "legendY": 75, "encode": {"legend": {"update": {"strokeWidth": {"value": 2}}}}}}
      }
    },
    {
      "data": {"name": "bottom"},
      "mark": {"type": "point", "opacity": 0, "size": 0},
      "encoding": {
        "x": {"field": "year", "type": "quantitative", "scale": {"domain": [2002, 2016.56], "nice": false, "zero": false}, "axis": {"orient": "top", "values": [2002, 2005, 2008, 2011, 2014], "labels": false, "title": null}},
        "y": {"field": "value", "type": "quantitative", "scale": {"domain": [2.908, 4.356], "nice": false, "zero": false}, "axis": {"orient": "right", "values": [3, 3.5, 4], "labels": false, "title": null}}
      }
    },
    {
      "data": {"values": [{"year": 2003.17, "value": 3.905, "label": "(b)"}]},
      "mark": {"type": "text", "fontSize": 20, "align": "center", "baseline": "middle", "color": "black"},
      "encoding": {
        "x": {"field": "year", "type": "quantitative", "scale": {"domain": [2002, 2016.56], "nice": false, "zero": false}, "axis": null},
        "y": {"field": "value", "type": "quantitative", "scale": {"domain": [2.908, 4.356], "nice": false, "zero": false}, "axis": null},
        "text": {"field": "label"}
      }
    }
  ],
  "resolve": {"axis": {"x": "independent", "y": "independent"}}
}
]
}
